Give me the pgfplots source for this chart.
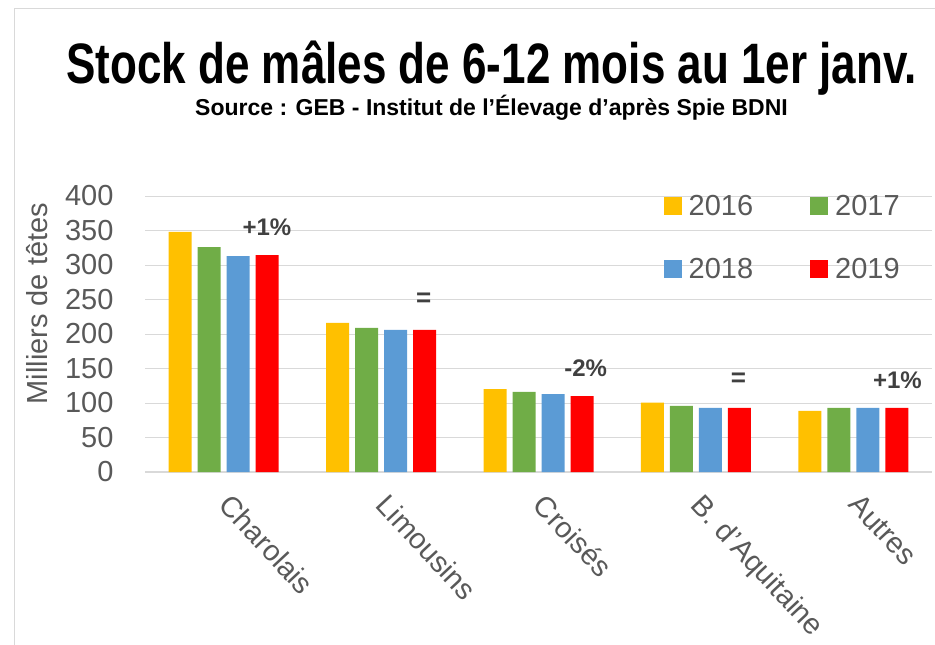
\documentclass[border=0pt]{standalone}
\usepackage{fontspec}
\setmainfont{Liberation Sans}
\newfontfamily\titlefont[FakeStretch=0.772]{Liberation Sans}
\usepackage{pgfplots}
\pgfplotsset{compat=1.18}
\definecolor{cY}{HTML}{FFC000}
\definecolor{cG}{HTML}{70AD47}
\definecolor{cB}{HTML}{5B9BD5}
\definecolor{cR}{HTML}{FF0000}
\definecolor{gridgray}{HTML}{D9D9D9}
\definecolor{txtgray}{HTML}{595959}
\definecolor{anngray}{HTML}{404040}
\begin{document}
\begin{tikzpicture}
\path[use as bounding box] (0pt,0pt) rectangle (935pt,-645pt);
\draw[gridgray, line width=1pt] (14pt,-645pt) -- (14pt,-8pt) -- (935pt,-8pt);
\node[anchor=base] at (491.5pt,-83pt) {\titlefont\bfseries\fontsize{57}{60}\selectfont Stock de mâles de 6-12 mois au 1er janv.};
\node[anchor=base] at (491.5pt,-115pt) {\bfseries\fontsize{23}{26}\selectfont Source : GEB - Institut de l'Élevage d'après Spie BDNI};
\begin{axis}[
  at={(145pt,-472pt)}, anchor=south west,
  scale only axis, width=787pt, height=276pt,
  ymin=0, ymax=400, xmin=-0.5, xmax=4.5,
  ytick={0,50,...,400},
  xtick={0,1,2,3,4},
  xticklabels={Charolais,Limousins,Croisés,B. d'Aquitaine,Autres},
  ybar=6pt, bar width=23pt,
  axis x line*=bottom, axis y line*=left,
  axis line style={-},
  y axis line style={draw=none},
  x axis line style={draw=gridgray, line width=1.5pt},
  ymajorgrids, grid style={gridgray, line width=1pt},
  major tick length=0pt, tick style={draw=none},
  /pgf/number format/assume math mode=true,
  tick label style={font=\fontsize{29}{32}\selectfont, text=txtgray},
  yticklabel style={xshift=-28pt},
  xticklabel style={xshift=9pt, yshift=-20pt, rotate=-47, anchor=north west, inner sep=0pt},
  ylabel={Milliers de têtes},
  ylabel style={at={(axis description cs:-0.137,0.61)}, anchor=center, font=\fontsize{29}{32}\selectfont, text=txtgray},
  legend columns=2,
  legend image code/.code={\fill[#1] (0pt,-9pt) rectangle (18pt,9pt);},
  legend style={at={(rel axis cs:0.655,1.022)}, anchor=north west, draw=none, fill=none,
    font=\fontsize{29}{32}\selectfont, text=txtgray, row sep=35pt,
    nodes={inner sep=3pt},
    /tikz/every odd column/.append style={column sep=4pt},
    /tikz/every even column/.append style={column sep=54pt}},
]
\addplot[fill=cY, draw=none] coordinates {(0,348) (1,216) (2,120) (3,100.5) (4,88.5)};
\addplot[fill=cG, draw=none] coordinates {(0,326) (1,209) (2,116) (3,96) (4,93)};
\addplot[fill=cB, draw=none] coordinates {(0,313) (1,206) (2,113) (3,93) (4,93)};
\addplot[fill=cR, draw=none] coordinates {(0,314.5) (1,206) (2,110) (3,93) (4,93)};
\legend{2016,2017,2018,2019}
\node[font=\bfseries\fontsize{24}{26}\selectfont, text=anngray] at (axis cs:0.275,355) {+1\%};
\node[font=\bfseries\fontsize{26}{26}\selectfont, text=anngray] at (axis cs:1.27,249) {=};
\node[font=\bfseries\fontsize{24}{26}\selectfont, text=anngray] at (axis cs:2.30,151) {-2\%};
\node[font=\bfseries\fontsize{26}{26}\selectfont, text=anngray] at (axis cs:3.27,133) {=};
\node[font=\bfseries\fontsize{24}{26}\selectfont, text=anngray] at (axis cs:4.28,133) {+1\%};
\end{axis}
\end{tikzpicture}
\end{document}
